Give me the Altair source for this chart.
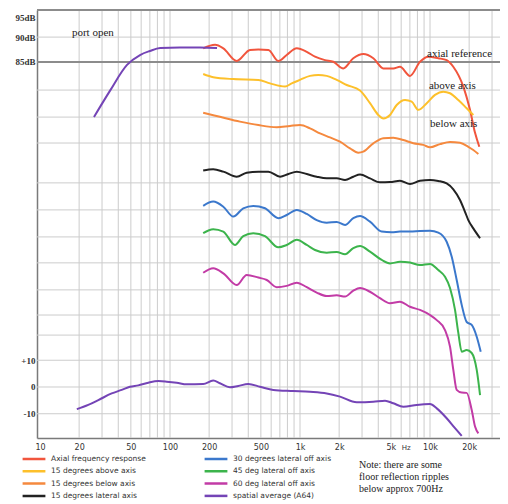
import altair as alt
import pandas as pd

# ---------------- axis labels / grid ----------------
x_grid_hz = [20, 30, 40, 50, 60, 70, 80, 90, 100, 200, 300, 400, 500, 600, 700, 800, 900,
             1000, 2000, 3000, 4000, 5000, 6000, 7000, 8000, 9000, 10000, 20000, 30000]
x_label_hz = [10, 20, 50, 100, 200, 500, 1000, 2000, 5000, 6500, 10000, 20000]
x_label_txt = ["10", "20", "50", "100", "200", "500", "1k", "2k", "5k", "Hz", "10k", "20k"]

y_grid_db = [140.93, 130.8, 121.5, 111.0, 100.9, 91.2, 76.3, 66.2, 56.1, 46.4, 36.3, 26.9, 19.4, 10, 0, -10]
y_label_db = [138.3, 130.8, 121.5, 10, 0, -10]
y_label_txt = ["95dB", "90dB", "85dB", "+10", "0", "-10"]

# ---------------- curves (Hz, relative dB as drawn, curves offset) ----------------
port_open_hz = [26, 34.5, 46.7, 58.8, 70, 84, 119, 170, 230]
port_open_db = [100.9, 110.7, 120.4, 124.1, 125.6, 126.7, 126.9, 126.9, 126.7]

axial_hz = [180, 222, 257, 326, 412, 478, 571, 681, 790, 944, 1127, 1304, 1556, 1804, 2153, 2570, 3070,
            3664, 4372, 5220, 5875, 7015, 8375, 9700, 11580, 13430, 15100, 18030, 20300, 22200, 23940]
axial_db = [126.6, 127.9, 126.6, 121.9, 126.0, 126.2, 126.0, 121.9, 124.1, 126.6, 125.3, 123.5, 122.2, 121.6,
            119.1, 122.9, 124.5, 122.9, 119.1, 119.1, 119.7, 116.3, 121.6, 123.5, 122.9, 122.2, 119.7, 112.3,
            103.6, 95.0, 89.8]

above_hz = [180, 215, 307, 478, 588, 767, 863, 1000, 1194, 1383, 1604, 1915, 2287, 2894, 3454, 4001, 4372,
            4924, 5544, 6424, 7230, 8130, 9435, 10920, 12650, 14250, 16510, 19150, 21530]
above_db = [117.0, 115.8, 115.1, 114.8, 113.5, 112.3, 113.5, 114.8, 116.3, 116.6, 116.3, 114.8, 112.9, 110.8,
            106.1, 101.7, 100.4, 101.7, 105.4, 107.3, 106.7, 103.6, 106.1, 109.2, 110.4, 109.8, 107.3, 104.2, 101.7]

below_hz = [180, 242, 345, 478, 662, 838, 1000, 1194, 1425, 1701, 2031, 2425, 2807, 3070, 3664, 4372, 5220,
            6233, 7443, 8880, 10000, 11940, 14250, 17010, 19710, 21530, 23540]
below_db = [102.5, 101.0, 99.2, 97.9, 97.1, 97.6, 97.9, 96.7, 94.8, 93.3, 91.7, 89.2, 87.6, 88.0, 91.1, 93.0,
            93.2, 92.3, 91.1, 90.5, 89.6, 90.8, 91.6, 91.3, 89.8, 88.6, 87.1]

lat15_hz = [180, 215, 257, 326, 389, 478, 571, 702, 813, 944, 1127, 1344, 1604, 1915, 2220, 2570, 2894, 3454,
            4122, 4924, 5875, 7015, 8375, 10000, 11580, 13430, 15110, 17010, 18580, 19710, 21530, 24260]
lat15_db = [80.9, 81.4, 80.5, 78.6, 80.1, 80.5, 80.5, 78.6, 79.6, 80.5, 79.6, 78.6, 78.0, 78.0, 77.4, 78.6,
            79.4, 78.0, 76.5, 76.6, 77.1, 75.9, 77.1, 77.4, 77.0, 76.1, 73.9, 69.9, 65.5, 62.4, 59.3, 55.6]

lat30_hz = [180, 215, 257, 307, 366, 437, 538, 681, 790, 944, 1127, 1344, 1604, 1915, 2220, 2570, 2894, 3454,
            4250, 5073, 5875, 7015, 8375, 10000, 11580, 13430, 14690, 16040, 17530, 19150, 20930, 22870, 24550]
lat30_db = [67.7, 69.3, 67.4, 63.7, 66.8, 67.7, 66.8, 63.1, 64.3, 66.2, 64.7, 62.4, 61.4, 61.7, 60.6, 63.1,
            63.9, 61.8, 58.1, 57.8, 58.1, 58.1, 58.3, 58.4, 57.7, 54.3, 48.7, 40.0, 30.7, 24.3, 23.2, 18.8, 13.2]

lat45_hz = [180, 215, 257, 316, 366, 437, 538, 681, 790, 944, 1127, 1304, 1604, 1915, 2220, 2570, 2894, 3454,
            4250, 4924, 5875, 7015, 8375, 10000, 11580, 13040, 14250, 15570, 16510, 17530, 19150, 20930, 22870, 24260]
lat45_db = [57.5, 59.0, 58.1, 53.1, 56.4, 57.5, 56.4, 52.2, 53.1, 55.0, 53.1, 51.2, 50.2, 50.5, 49.6, 51.9,
            52.7, 50.6, 47.5, 46.2, 46.8, 46.5, 45.6, 46.0, 43.7, 41.2, 37.0, 28.8, 20.2, 13.2, 13.8, 12.7, 6.4, -3.0]

lat60_hz = [180, 215, 257, 326, 389, 478, 555, 662, 790, 944, 1127, 1344, 1604, 1915, 2220, 2570, 2894, 3454,
            4122, 4924, 5875, 7015, 8375, 10000, 11270, 13040, 14250, 15110, 16040, 17530, 19150, 20930, 22200, 23540]
lat60_db = [42.7, 44.4, 42.5, 38.1, 41.9, 40.9, 40.0, 37.3, 37.8, 39.0, 37.3, 35.3, 34.0, 34.3, 33.8, 36.0,
            37.0, 35.6, 33.2, 31.3, 31.9, 30.0, 28.8, 26.9, 25.0, 21.3, 15.1, 6.4, -1.1, -2.1, -2.2, -8.6, -14.8, -17.3]

spatial_hz = [19.2, 23.5, 28.1, 35.6, 42.5, 49.2, 57, 68.1, 81.3, 94.4, 112.6, 134.4, 180, 215, 242, 289, 335,
              400, 492, 623, 888, 1194, 1604, 2031, 2730, 3664, 4508, 5220, 6233, 7905, 10000, 11270, 13430,
              15570, 17530]
spatial_db = [-8.3, -6.7, -4.9, -2.4, -1.1, 0.1, 0.6, 1.6, 2.2, 2.0, 1.6, 1.0, 1.1, 2.4, 1.4, -0.1, 0.4, 1.1,
              0.1, -1.1, -1.5, -1.8, -2.4, -3.6, -5.7, -5.5, -5.1, -6.1, -7.4, -6.7, -6.4, -8.0, -11.7, -15.4, -18.3]

series_names = ["Axial frequency response", "15 degrees above axis", "15 degrees below axis",
                "15 degrees lateral axis", "30 degrees lateral off axis", "45 deg lateral off axis",
                "60 deg lateral off axis", "spatial average (A64)"]
series_colors = ["#f1553d", "#fdc02b", "#f5893e", "#222222", "#3b78cc", "#3cb44c", "#c23ba6", "#7444b6"]
series_data = {
    "Axial frequency response": (axial_hz, axial_db),
    "15 degrees above axis": (above_hz, above_db),
    "15 degrees below axis": (below_hz, below_db),
    "15 degrees lateral axis": (lat15_hz, lat15_db),
    "30 degrees lateral off axis": (lat30_hz, lat30_db),
    "45 deg lateral off axis": (lat45_hz, lat45_db),
    "60 deg lateral off axis": (lat60_hz, lat60_db),
    "spatial average (A64)": (spatial_hz, spatial_db),
}

# annotations (anchored at left edge of text)
ann_text = ["port open", "axial reference", "above axis", "below axis"]
ann_hz = [17.6, 9480, 9820, 10000]
ann_db = [132.3, 124.5, 112.5, 98.3]

note_text = ["Note: there are some", "floor reflection ripples", "below approx 700Hz"]
note_hz = [2844, 2844, 2844]
note_db = [-29.2, -33.6, -38.1]

# ---------------- build tables ----------------
rows = []
for name, (hz, db) in series_data.items():
    for f, d in zip(hz, db):
        rows.append({"series": name, "freq": f, "db": d})
curves = pd.DataFrame(rows)
port = pd.DataFrame({"freq": port_open_hz, "db": port_open_db})
ann = pd.DataFrame({"freq": ann_hz, "db": ann_db, "text": ann_text})
note = pd.DataFrame({"freq": note_hz, "db": note_db, "text": note_text})
vgrid = pd.DataFrame({"freq": x_grid_hz})
hgrid = pd.DataFrame({"db": y_grid_db})

x_expr = " : ".join(f"datum.value == {v} ? '{t}'" for v, t in zip(x_label_hz, x_label_txt)) + " : ''"
y_expr = " : ".join(f"abs(datum.value - ({v})) < 0.01 ? '{t}'" for v, t in zip(y_label_db, y_label_txt)) + " : ''"

x_scale = alt.Scale(type="log", domain=[9.483, 34540], nice=False)
y_scale = alt.Scale(domain=[-19.07, 140.93], nice=False, zero=False)

x_axis = alt.Axis(
    values=x_label_hz, labelExpr=x_expr, labelOverlap=False, title=None, ticks=False, grid=False,
    domainColor="#7a7a7a", domainWidth=1.5, labelPadding=5,
    labelFont="DejaVu Sans", labelFontSize={"condition": {"test": "datum.value == 6500", "value": 7}, "value": 8},
    labelColor="#333333",
)
y_axis = alt.Axis(
    values=y_label_db, labelExpr=y_expr, labelOverlap=False, title=None, ticks=False, grid=False,
    domainColor="#7a7a7a", domainWidth=1.5, labelPadding=2,
    labelFont="Liberation Serif", labelFontSize=9, labelColor="#333333", labelFontWeight="bold",
)
X = alt.X("freq:Q", scale=x_scale, axis=x_axis)
Y = alt.Y("db:Q", scale=y_scale, axis=y_axis)

strong = "(datum.db > 121 && datum.db < 122) || datum.db > 140"
hgrid_layer = alt.Chart(hgrid).mark_rule().encode(
    y=Y,
    color=alt.condition(strong, alt.value("#8c8c8c"), alt.value("#cccccc")),
    strokeWidth=alt.condition(strong, alt.value(2), alt.value(1)),
)
vgrid_layer = alt.Chart(vgrid).mark_rule(color="#cccccc", strokeWidth=1).encode(x=X)

lines = alt.Chart(curves).mark_line(strokeWidth=2, interpolate="monotone").encode(
    x=X, y=Y,
    color=alt.Color("series:N", sort=series_names,
                    scale=alt.Scale(domain=series_names, range=series_colors),
                    legend=alt.Legend(orient="none", legendX=-16, legendY=444, columns=2, title=None,
                                      symbolType="stroke", symbolSize=520, symbolStrokeWidth=2.5,
                                      clipHeight=10,
                                      labelFont="DejaVu Sans", labelFontSize=7.5, labelColor="#333333",
                                      rowPadding=2.3, columnPadding=57, labelLimit=220)),
)

port_line = alt.Chart(port).mark_line(strokeWidth=2, color="#7444b6", interpolate="monotone").encode(x=X, y=Y)

ann_layer = alt.Chart(ann).mark_text(font="Liberation Serif", fontSize=11, align="left",
                                     baseline="middle", color="#222222").encode(x=X, y=Y, text="text:N")

note_layer = alt.Chart(note).mark_text(font="Liberation Serif", fontSize=10, align="left",
                                       baseline="middle", color="#222222").encode(x=X, y=Y, text="text:N")

chart = alt.layer(vgrid_layer, hgrid_layer, lines, port_line, ann_layer, note_layer).properties(
    width=463, height=428,
    autosize=alt.AutoSizeParams(type="none"),
    padding={"left": 29, "top": 2, "right": 0, "bottom": 64},
).configure_view(stroke=None)

chart.save("out.html", embed_options={"renderer": "svg", "actions": False})
